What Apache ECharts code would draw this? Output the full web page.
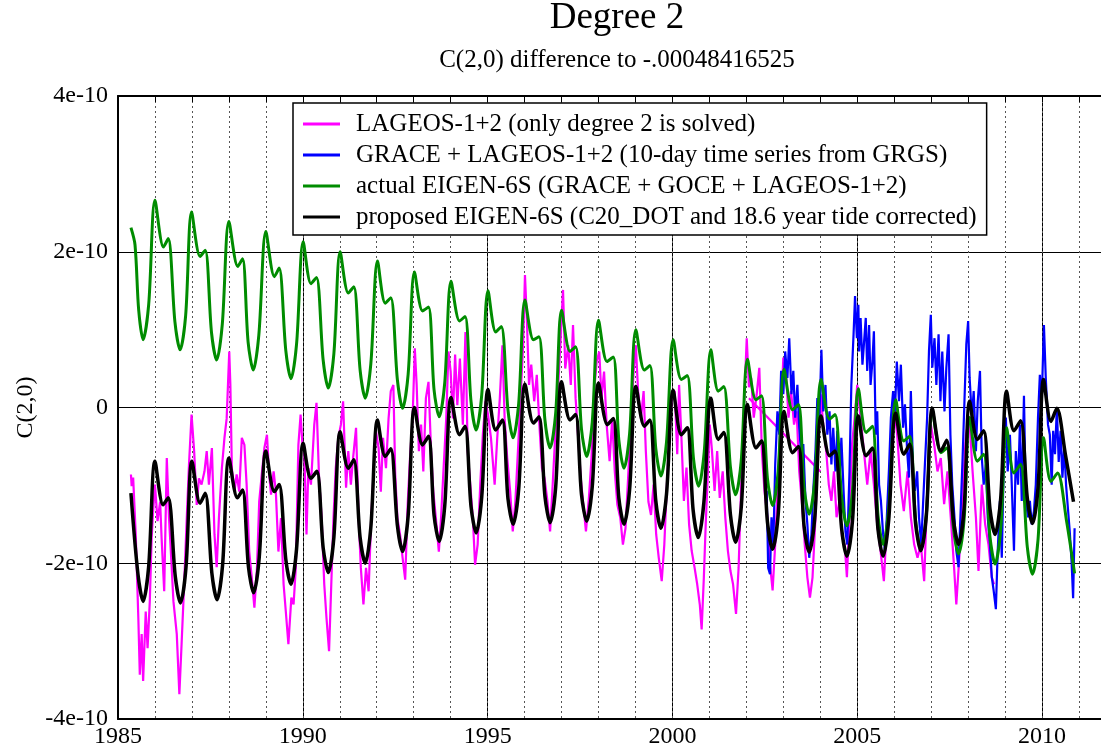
<!DOCTYPE html>
<html>
<head>
<meta charset="utf-8">
<script src="https://cdn.jsdelivr.net/npm/echarts@6/dist/echarts.min.js"></script>
<style>html,body{margin:0;padding:0;background:#fff;overflow:hidden}#c{width:1120px;height:749px}</style>
</head>
<body>
<div id="c"></div>
<script>
// values in units of 1e-10
const yTickLabels = ['-4e-10', '-2e-10', '0', '2e-10', '4e-10'];
const xLabelYears = [1985, 1990, 1995, 2000, 2005, 2010];
const seriesNames = [
  'LAGEOS-1+2 (only degree 2 is solved)',
  'GRACE + LAGEOS-1+2 (10-day time series from GRGS)',
  'actual EIGEN-6S (GRACE + GOCE + LAGEOS-1+2)',
  'proposed EIGEN-6S (C20_DOT and 18.6 year tide corrected)'
];

const lageos = [
[1985.35,-0.86],[1985.37,-1.01],[1985.41,-0.90],[1985.48,-1.63],[1985.55,-2.70],[1985.59,-3.43],[1985.64,-2.91],[1985.68,-3.51],[1985.75,-2.62],[1985.80,-3.09],[1985.86,-2.49],[1985.91,-1.68],[1985.95,-1.33],[1986.00,-0.99],[1986.07,-1.46],[1986.14,-1.21],[1986.18,-1.68],[1986.25,-2.36],[1986.32,-0.65],[1986.38,-1.42],[1986.43,-1.85],[1986.50,-2.49],[1986.59,-2.91],[1986.66,-3.68],[1986.72,-3.04],[1986.79,-2.27],[1986.86,-1.42],[1986.92,-0.74],[1986.99,-0.09],[1987.06,-0.56],[1987.13,-1.25],[1987.19,-0.91],[1987.26,-0.99],[1987.34,-0.82],[1987.40,-0.56],[1987.46,-0.99],[1987.54,-0.52],[1987.61,-1.63],[1987.67,-2.05],[1987.73,-1.42],[1987.81,-0.78],[1987.88,-0.39],[1987.94,-0.14],[1988.01,0.72],[1988.04,0.29],[1988.08,-0.78],[1988.15,-1.08],[1988.21,-0.86],[1988.28,-1.08],[1988.35,-0.39],[1988.42,-0.48],[1988.48,-0.99],[1988.55,-1.85],[1988.62,-2.19],[1988.69,-2.57],[1988.76,-2.06],[1988.82,-1.21],[1988.89,-0.86],[1988.96,-0.52],[1989.03,-0.35],[1989.09,-0.86],[1989.14,-1.12],[1989.21,-0.82],[1989.27,-1.08],[1989.34,-1.85],[1989.41,-1.42],[1989.48,-2.27],[1989.54,-2.62],[1989.61,-3.04],[1989.69,-2.44],[1989.75,-2.53],[1989.81,-2.06],[1989.88,-0.48],[1989.94,-0.09],[1989.99,-0.48],
[1990.04,-0.56],[1990.10,-1.63],[1990.15,-0.78],[1990.22,-0.99],[1990.31,-0.22],[1990.37,0.06],[1990.44,-0.91],[1990.51,-1.42],[1990.58,-2.27],[1990.64,-2.70],[1990.71,-3.13],[1990.77,-2.27],[1990.83,-1.42],[1990.89,-0.78],[1990.96,-0.39],[1991.03,-0.22],[1991.09,0.08],[1991.17,-1.03],[1991.23,-0.56],[1991.30,-0.99],[1991.36,-0.65],[1991.44,-0.26],[1991.51,-1.42],[1991.57,-2.06],[1991.64,-2.53],[1991.71,-2.06],[1991.78,-2.36],[1991.85,-1.42],[1991.92,-0.78],[1991.98,-0.31],[1992.05,-0.52],[1992.11,-1.08],[1992.17,-0.39],[1992.25,-0.78],[1992.32,-0.14],[1992.38,0.21],[1992.45,0.29],[1992.50,-0.86],[1992.56,-1.42],[1992.63,-1.63],[1992.70,-1.93],[1992.77,-2.21],[1992.84,-1.21],[1992.90,-0.65],[1992.97,-0.14],[1993.03,0.76],[1993.08,0.29],[1993.14,-0.56],[1993.20,-0.22],[1993.26,-0.82],[1993.33,0.12],[1993.40,0.33],[1993.47,-0.56],[1993.53,-1.08],[1993.60,-1.42],[1993.68,-1.85],[1993.74,-1.42],[1993.80,-0.86],[1993.88,-0.14],[1993.94,0.72],[1994.00,0.46],[1994.06,-0.14],[1994.12,0.68],[1994.18,0.03],[1994.25,0.63],[1994.33,-0.22],[1994.40,0.97],[1994.46,-0.56],[1994.53,-0.99],[1994.60,-1.42],[1994.66,-2.02],[1994.73,-1.76],[1994.80,-0.99],[1994.87,-0.35],[1994.94,0.08],[1995.01,-0.09],[1995.09,-0.39],[1995.19,-0.99],
[1995.26,-0.39],[1995.33,0.12],[1995.40,0.80],[1995.46,-0.14],[1995.53,-0.65],[1995.61,-1.08],[1995.68,-1.59],[1995.75,-1.21],[1995.82,-0.56],[1995.89,0.12],[1995.96,0.80],[1996.01,1.70],[1996.06,1.15],[1996.12,0.29],[1996.18,0.55],[1996.26,0.08],[1996.33,0.42],[1996.40,-0.22],[1996.47,-0.78],[1996.54,-0.91],[1996.62,-1.21],[1996.69,-1.59],[1996.76,-0.99],[1996.83,-0.35],[1996.91,0.29],[1996.98,0.93],[1997.04,1.51],[1997.10,0.50],[1997.18,0.80],[1997.25,0.29],[1997.31,1.06],[1997.38,0.12],[1997.45,-0.39],[1997.52,-0.91],[1997.59,-1.25],[1997.66,-1.59],[1997.74,-1.16],[1997.81,-0.65],[1997.88,0.21],[1997.95,0.59],[1998.02,0.72],[1998.08,0.12],[1998.15,0.46],[1998.22,-0.22],[1998.30,-0.69],[1998.37,-0.14],[1998.44,-0.82],[1998.51,-1.25],[1998.59,-1.42],[1998.66,-1.76],[1998.73,-1.55],[1998.80,-0.91],[1998.88,-0.14],[1998.95,0.46],[1999.01,0.80],[1999.07,0.21],[1999.15,-0.14],[1999.22,0.21],[1999.28,-0.56],[1999.35,-1.21],[1999.42,-1.38],[1999.49,-0.99],[1999.56,-1.63],[1999.63,-1.93],[1999.71,-2.23],[1999.78,-1.76],[1999.85,-0.99],[1999.92,-0.39],[1999.99,0.21],
[2000.06,0.21],[2000.13,-0.60],[2000.18,0.29],[2000.24,-0.35],[2000.31,-1.20],[2000.38,-0.77],[2000.45,-1.50],[2000.52,-1.84],[2000.60,-2.06],[2000.67,-2.27],[2000.74,-2.53],[2000.79,-2.85],[2000.85,-2.18],[2000.90,-1.50],[2000.96,-0.82],[2001.01,-0.22],[2001.07,-0.56],[2001.14,-1.07],[2001.21,-0.56],[2001.28,-1.16],[2001.36,-0.82],[2001.43,-1.41],[2001.50,-1.84],[2001.57,-2.10],[2001.64,-2.27],[2001.72,-2.65],[2001.79,-2.06],[2001.86,-0.99],[2001.93,-0.05],[2002.01,0.89],[2002.07,0.26],[2002.13,0.38],[2002.20,-0.13],[2002.28,0.17],[2002.35,0.51],[2002.42,-0.56],[2002.49,-1.07],[2002.57,-1.41],[2002.64,-2.01],[2002.71,-2.35],[2002.78,-1.76],[2002.85,-0.99],[2002.93,-0.13],[2003.00,0.64],[2003.07,0.47],[2003.14,-0.13],[2003.21,0.21],[2003.29,-0.22],[2003.36,-0.05],[2003.43,-0.82],[2003.50,-1.20],[2003.58,-1.76],[2003.65,-2.18],[2003.72,-2.44],[2003.79,-2.18],[2003.87,-1.41],[2003.94,-0.56],[2004.01,0.17],[2004.08,-0.22],[2004.16,-0.56],[2004.23,-0.99],[2004.30,-1.20],[2004.37,-0.82],[2004.44,-1.41],[2004.52,-1.20],[2004.59,-1.67],[2004.66,-1.76],[2004.72,-2.18],[2004.79,-1.41],[2004.86,-0.47],[2004.93,-0.13],[2005.00,0.29],
[2005.09,-0.13],[2005.18,-0.56],[2005.27,-0.99],[2005.36,-0.56],[2005.45,-0.99],[2005.54,-1.50],[2005.63,-1.84],[2005.72,-2.23],[2005.81,-1.41],[2005.90,-0.56],[2005.99,0.04],[2006.08,-0.35],[2006.17,-0.99],[2006.26,-1.33],[2006.36,-0.82],[2006.45,-1.41],[2006.54,-1.76],[2006.63,-1.93],[2006.72,-1.76],[2006.81,-2.23],[2006.90,-0.99],[2006.99,-0.22],[2007.08,-0.47],[2007.17,-0.82],[2007.26,-0.65],[2007.35,-1.24],[2007.44,-0.82],[2007.53,-1.41],[2007.62,-2.06],[2007.68,-2.53],[2007.76,-1.93],[2007.85,-1.07],[2007.94,-0.35],[2008.03,-0.13],[2008.12,-0.82],[2008.21,-1.41],[2008.28,-2.10],[2008.37,-0.99],[2008.46,-1.50],[2008.55,-1.76],[2008.64,-2.18],[2008.70,-2.27]
];
const lageosBridge = [[2002.07,0.12],[2004.00,-0.82]];

const grace = [
[2002.55,-1.07],[2002.59,-2.06],[2002.64,-2.14],[2002.68,-1.41],[2002.73,-1.76],[2002.78,-0.73],[2002.84,-0.05],[2002.89,-0.35],[2002.94,0.47],[2003.00,0.17],[2003.05,0.72],[2003.11,0.38],[2003.16,0.89],[2003.22,0.17],[2003.27,0.47],[2003.32,-0.13],[2003.38,0.29],[2003.43,-0.26],[2003.49,-0.65],[2003.54,-0.47],[2003.60,-1.20],[2003.65,-1.50],[2003.70,-1.93],[2003.76,-1.63],[2003.81,-1.07],[2003.87,-0.56],[2003.92,0.12],[2003.97,-0.22],[2004.03,0.74],[2004.08,-0.05],[2004.14,0.29],[2004.19,-0.35],[2004.25,-0.05],[2004.30,-0.73],[2004.35,-0.26],[2004.41,-0.82],[2004.46,-0.30],[2004.52,-0.99],[2004.57,-0.39],[2004.63,-1.07],[2004.68,-1.59],[2004.73,-1.76],[2004.79,-0.82],[2004.84,0.29],[2004.90,0.94],[2004.94,1.43],[2004.99,0.89],[2005.03,1.32],
[2005.05,0.72],[2005.09,1.15],[2005.14,0.55],[2005.18,0.81],[2005.23,1.15],[2005.27,0.47],[2005.32,1.06],[2005.36,0.29],[2005.41,0.59],[2005.45,0.98],[2005.50,-0.35],[2005.54,-0.05],[2005.59,-0.99],[2005.64,-1.20],[2005.70,-1.63],[2005.75,-1.84],[2005.80,-1.41],[2005.86,-0.77],[2005.91,-0.13],[2005.97,0.21],[2006.02,-0.05],[2006.07,0.59],[2006.13,0.08],[2006.18,0.55],[2006.24,-0.26],[2006.29,0.04],[2006.35,-0.56],[2006.40,-0.90],[2006.45,0.21],[2006.51,-0.82],[2006.56,-1.07],[2006.62,-0.82],[2006.67,-1.41],[2006.73,-1.76],[2006.78,-1.24],[2006.83,-0.73],[2006.89,-0.13],[2006.94,0.72],[2006.99,1.19],[2007.03,0.51],[2007.09,0.89],[2007.14,0.29],[2007.20,0.94],[2007.25,0.08],[2007.30,0.72],[2007.36,-0.05],[2007.41,0.51],[2007.47,0.94],[2007.52,-0.35],[2007.57,-0.99],[2007.63,-1.41],[2007.68,-1.84],[2007.74,-2.05],[2007.79,-1.41],[2007.85,-0.65],[2007.90,0.08],[2007.95,0.81],[2008.00,1.11],[2008.04,0.38],[2008.10,-0.13],[2008.15,0.21],[2008.21,-0.56],[2008.26,0.08],[2008.32,0.47],[2008.37,-0.65],[2008.42,-0.99],[2008.48,-0.73],[2008.53,-1.41],[2008.59,-1.76],[2008.64,-2.18],[2008.69,-2.35],[2008.75,-2.59],[2008.80,-1.84],[2008.86,-1.20],[2008.91,-1.93],[2008.97,-0.56],[2009.02,-0.13],[2009.07,-0.82],[2009.13,-0.35],[2009.18,-0.99],[2009.24,-1.84],[2009.29,-0.56],[2009.35,-0.99],[2009.40,-0.22],[2009.45,-1.20],[2009.51,0.15],[2009.56,-1.20],[2009.62,-1.41],[2009.67,-1.20],[2009.72,-1.50],[2009.78,-1.33],[2009.83,-0.99],[2009.89,-0.13],[2009.94,0.42],[2009.99,0.08],[2010.05,1.06],[2010.10,0.38],[2010.16,-0.22],[2010.21,-0.35],[2010.26,-0.99],[2010.30,-0.30],[2010.35,-0.60],[2010.40,0.00],[2010.45,-0.70],[2010.50,-0.30],[2010.55,-0.90],[2010.60,-0.50],[2010.65,-1.00],[2010.70,-1.30],[2010.75,-1.60],[2010.80,-2.00],[2010.84,-2.45],[2010.88,-1.55]
];

const actual = [
[1985.35,2.31],[1985.46,2.09],[1985.56,1.25],[1985.68,0.87],[1985.83,1.32],
[1986.00,2.66],[1986.23,2.06],[1986.36,2.17],[1986.54,1.10],[1986.68,0.74],[1986.83,1.18],
[1986.99,2.51],[1987.22,1.94],[1987.36,2.02],[1987.53,0.96],[1987.67,0.61],[1987.82,1.06],
[1988.00,2.39],[1988.24,1.81],[1988.37,1.91],[1988.52,0.84],[1988.66,0.48],[1988.81,0.93],
[1989.00,2.26],[1989.23,1.68],[1989.36,1.79],[1989.54,0.73],[1989.68,0.37],[1989.83,0.81],
[1990.01,2.13],[1990.22,1.59],[1990.37,1.67],[1990.55,0.61],[1990.69,0.25],[1990.84,0.69],
[1991.01,2.00],[1991.23,1.47],[1991.38,1.55],[1991.55,0.48],[1991.69,0.12],[1991.84,0.56],
[1992.02,1.88],[1992.23,1.34],[1992.38,1.41],[1992.56,0.35],[1992.70,-0.01],[1992.85,0.43],
[1993.02,1.74],[1993.24,1.24],[1993.40,1.29],[1993.55,0.23],[1993.69,-0.12],[1993.84,0.32],
[1994.01,1.62],[1994.24,1.11],[1994.39,1.17],[1994.55,0.08],[1994.69,-0.29],[1994.84,0.16],
[1995.01,1.50],[1995.22,0.97],[1995.37,1.04],[1995.55,-0.03],[1995.69,-0.39],[1995.84,0.05],
[1996.01,1.38],[1996.24,0.87],[1996.39,0.91],[1996.55,-0.16],[1996.69,-0.52],[1996.84,-0.08],
[1997.00,1.25],[1997.23,0.72],[1997.38,0.78],[1997.54,-0.28],[1997.68,-0.63],[1997.83,-0.19],
[1998.00,1.12],[1998.23,0.59],[1998.40,0.65],[1998.55,-0.42],[1998.69,-0.78],[1998.84,-0.34],
[1999.01,1.00],[1999.24,0.48],[1999.39,0.54],[1999.55,-0.53],[1999.69,-0.88],[1999.84,-0.44],
[2000.02,0.87],[2000.24,0.36],[2000.40,0.41],[2000.57,-0.66],[2000.71,-1.01],[2000.86,-0.57],
[2001.04,0.74],[2001.24,0.21],[2001.39,0.27],[2001.57,-0.77],[2001.71,-1.12],[2001.86,-0.69],
[2002.03,0.62],[2002.26,0.10],[2002.41,0.15],[2002.57,-0.91],[2002.71,-1.26],[2002.86,-0.82],
[2003.02,0.49],[2003.25,-0.03],[2003.41,0.04],[2003.56,-1.02],[2003.70,-1.37],[2003.85,-0.94],
[2004.02,0.36],[2004.25,-0.15],[2004.40,-0.09],[2004.58,-1.16],[2004.72,-1.52],[2004.87,-1.08],
[2005.03,0.24],[2005.24,-0.32],[2005.41,-0.24],[2005.56,-1.38],[2005.70,-1.76],[2005.85,-1.30],
[2006.04,0.10],[2006.26,-0.43],[2006.42,-0.37],[2006.58,-1.46],[2006.72,-1.82],[2006.87,-1.37],
[2007.03,-0.03],[2007.26,-0.58],[2007.42,-0.52],[2007.60,-1.54],[2007.74,-1.88],[2007.89,-1.44],
[2008.04,-0.13],[2008.25,-0.69],[2008.42,-0.60],[2008.59,-1.66],[2008.73,-2.01],[2008.88,-1.57],
[2009.04,-0.26],[2009.24,-0.84],[2009.42,-0.73],[2009.60,-1.79],[2009.74,-2.14],[2009.89,-1.70],
[2010.04,-0.39],[2010.24,-0.95],[2010.42,-0.84],[2010.66,-1.45],[2010.88,-2.13]
];

const proposed = [
[1985.35,-1.10],[1985.54,-2.14],[1985.68,-2.49],[1985.83,-2.04],
[1986.00,-0.69],[1986.22,-1.25],[1986.36,-1.16],[1986.55,-2.17],[1986.69,-2.51],[1986.84,-2.05],
[1987.00,-0.69],[1987.22,-1.23],[1987.36,-1.10],[1987.54,-2.13],[1987.68,-2.47],[1987.83,-2.02],
[1988.00,-0.65],[1988.23,-1.16],[1988.37,-1.06],[1988.53,-2.05],[1988.67,-2.38],[1988.82,-1.93],
[1989.00,-0.56],[1989.23,-1.08],[1989.36,-0.99],[1989.54,-1.95],[1989.68,-2.27],[1989.83,-1.82],
[1990.01,-0.46],[1990.22,-0.91],[1990.38,-0.82],[1990.55,-1.80],[1990.69,-2.12],[1990.84,-1.67],
[1991.01,-0.31],[1991.23,-0.78],[1991.38,-0.67],[1991.55,-1.67],[1991.69,-2.00],[1991.84,-1.54],
[1992.02,-0.16],[1992.23,-0.63],[1992.38,-0.53],[1992.56,-1.52],[1992.70,-1.85],[1992.85,-1.39],
[1993.02,0.00],[1993.24,-0.48],[1993.40,-0.37],[1993.55,-1.38],[1993.69,-1.72],[1993.84,-1.26],
[1994.01,0.13],[1994.24,-0.35],[1994.39,-0.24],[1994.55,-1.27],[1994.69,-1.61],[1994.84,-1.15],
[1995.01,0.23],[1995.22,-0.29],[1995.40,-0.16],[1995.55,-1.17],[1995.69,-1.50],[1995.84,-1.05],
[1996.01,0.30],[1996.24,-0.20],[1996.39,-0.12],[1996.55,-1.14],[1996.69,-1.48],[1996.84,-1.03],
[1997.00,0.33],[1997.23,-0.16],[1997.38,-0.09],[1997.54,-1.12],[1997.68,-1.46],[1997.83,-1.02],
[1998.00,0.31],[1998.24,-0.22],[1998.40,-0.14],[1998.55,-1.16],[1998.69,-1.50],[1998.84,-1.06],
[1999.01,0.27],[1999.24,-0.24],[1999.39,-0.16],[1999.55,-1.20],[1999.69,-1.55],[1999.84,-1.11],
[2000.02,0.22],[2000.24,-0.35],[2000.40,-0.26],[2000.56,-1.32],[2000.70,-1.67],[2000.85,-1.22],
[2001.04,0.12],[2001.24,-0.41],[2001.39,-0.32],[2001.57,-1.38],[2001.71,-1.73],[2001.86,-1.29],
[2002.03,0.04],[2002.26,-0.52],[2002.41,-0.43],[2002.57,-1.47],[2002.71,-1.82],[2002.86,-1.38],
[2003.02,-0.05],[2003.25,-0.58],[2003.41,-0.50],[2003.56,-1.52],[2003.70,-1.86],[2003.85,-1.42],
[2004.02,-0.11],[2004.25,-0.62],[2004.40,-0.56],[2004.58,-1.57],[2004.72,-1.91],[2004.87,-1.46],
[2005.03,-0.11],[2005.24,-0.62],[2005.41,-0.52],[2005.56,-1.56],[2005.70,-1.91],[2005.85,-1.45],
[2006.04,-0.07],[2006.26,-0.60],[2006.42,-0.47],[2006.58,-1.50],[2006.72,-1.84],[2006.87,-1.38],
[2007.03,-0.01],[2007.26,-0.56],[2007.42,-0.42],[2007.60,-1.43],[2007.74,-1.76],[2007.89,-1.30],
[2008.04,0.08],[2008.25,-0.41],[2008.42,-0.30],[2008.59,-1.30],[2008.73,-1.63],[2008.88,-1.17],
[2009.04,0.21],[2009.24,-0.30],[2009.42,-0.17],[2009.60,-1.16],[2009.74,-1.49],[2009.89,-1.03],
[2010.04,0.36],[2010.24,-0.18],[2010.40,-0.01],[2010.63,-0.60],[2010.85,-1.21]
];

const SERIF = '"Liberation Serif", "Times New Roman", serif';
const chart = echarts.init(document.getElementById('c'), null, {renderer: 'canvas'});
const lineSeries = (name, data, color, width, smooth, z) => ({
  name: name, type: 'line', data: data, color: color,
  symbol: 'none', showSymbol: false, smooth: smooth, z: z,
  lineStyle: {color: color, width: width}, animation: false
});

chart.setOption({
  backgroundColor: '#fff',
  animation: false,
  graphic: [
    {type: 'text', x: 617, y: 0, style: {text: 'Degree 2', font: '37px ' + SERIF, fill: '#000', textAlign: 'center', textVerticalAlign: 'top'}},
    {type: 'text', x: 617, y: 48, style: {text: 'C(2,0) difference to -.00048416525', font: '25px ' + SERIF, fill: '#000', textAlign: 'center', textVerticalAlign: 'top'}}
  ],
  grid: {left: 118, top: 96, right: 4, bottom: 28, containLabel: false},
  legend: {
    show: true, orient: 'vertical', left: 293, top: 103,
    data: seriesNames, selectedMode: false,
    icon: 'rect', itemWidth: 37, itemHeight: 3, itemGap: 3,
    padding: [7, 10, 4, 10],
    backgroundColor: '#fff', borderColor: '#000', borderWidth: 1.5, borderRadius: 0,
    textStyle: {fontFamily: SERIF, fontSize: 25, color: '#000', lineHeight: 28, padding: [0, 0, 0, 11]},
    z: 10
  },
  xAxis: [
    {
      type: 'value', position: 'bottom', min: 1985, max: 2012, interval: 5,
      axisLine: {show: true, onZero: false, lineStyle: {color: '#000', width: 2}},
      axisTick: {show: false},
      axisLabel: {fontFamily: SERIF, fontSize: 24, color: '#000', margin: 6,
        formatter: v => xLabelYears.indexOf(v) >= 0 ? String(v) : ''},
      splitLine: {show: true, lineStyle: {color: '#000', width: 1, type: 'solid'}}
    },
    {
      type: 'value', position: 'top', min: 1985, max: 2012, interval: 1,
      axisLine: {show: true, onZero: false, lineStyle: {color: '#000', width: 2}},
      axisTick: {show: true, inside: true, length: 6, lineStyle: {color: '#000', width: 1}},
      axisLabel: {show: false},
      splitLine: {show: true, lineStyle: {color: '#555', width: 1, type: [2, 3]}}
    }
  ],
  yAxis: {
    type: 'value', min: -4, max: 4, interval: 2,
    axisLine: {show: true, onZero: false, lineStyle: {color: '#000', width: 2}},
    axisTick: {show: false},
    axisLabel: {fontFamily: SERIF, fontSize: 24, color: '#000', margin: 10,
      formatter: v => yTickLabels[Math.round((v + 4) / 2)]},
    splitLine: {show: true, lineStyle: {color: '#000', width: 1}},
    name: 'C(2,0)', nameLocation: 'middle', nameGap: 80, nameMoveOverlap: false,
    nameTextStyle: {fontFamily: SERIF, fontSize: 24, color: '#000'}
  },
  series: [
    lineSeries(seriesNames[0], lageos, '#ff00ff', 2.2, false, 2),
    lineSeries(seriesNames[0], lageosBridge, '#ff00ff', 2.2, false, 2),
    lineSeries(seriesNames[1], grace, '#0000ff', 2.2, false, 3),
    lineSeries(seriesNames[2], actual, '#008c00', 3, 0.3, 4),
    lineSeries(seriesNames[3], proposed, '#000000', 3.5, 0.3, 5)
  ]
});
</script>
</body>
</html>
